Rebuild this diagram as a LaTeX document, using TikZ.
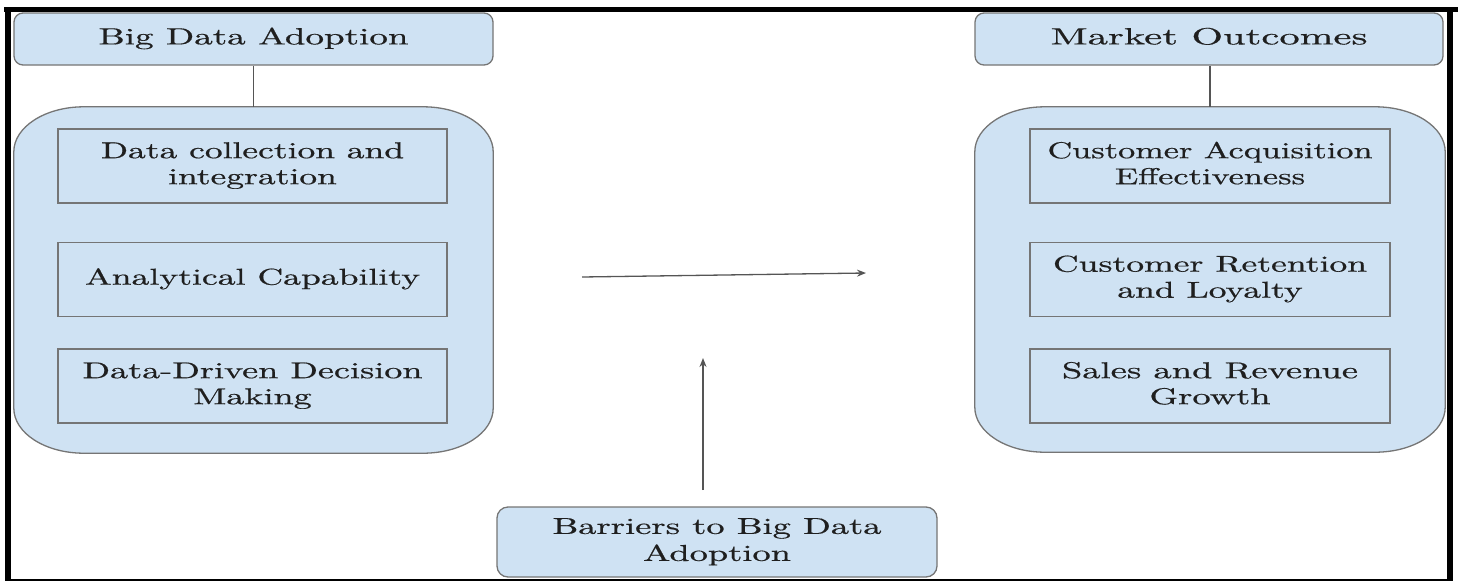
\documentclass[tikz,border=0pt]{standalone}
\usepackage{fontspec}
\usepackage{graphicx}
\setmainfont{lmroman10-regular}[Extension=.otf, FakeBold=0.5]
\usetikzlibrary{arrows.meta}
\definecolor{boxblue}{HTML}{CFE2F3}
\definecolor{edgegray}{HTML}{757575}
\definecolor{linegray}{HTML}{555555}
\definecolor{ink}{HTML}{1F1F1F}
\newcommand{\widetext}[2]{\resizebox{#1pt}{\height}{\renewcommand{\arraystretch}{1}\begin{tabular}{@{}c@{}}#2\end{tabular}}}
\begin{document}
\begin{tikzpicture}[x=1pt,y=-1pt,
  header/.style={draw=edgegray, line width=1.3pt, fill=boxblue, rounded corners=9pt,
    minimum height=52pt, inner sep=0pt, text=ink, font=\fontsize{23.5}{27}\selectfont},
  holder/.style={draw=none, fill=none, inner sep=0pt},
  contline/.style={draw=edgegray, line width=1.3pt, fill=boxblue},
  itembox/.style={draw=edgegray, line width=1.6pt, fill=boxblue, inner sep=0pt,
    minimum height=74pt, text=ink, font=\fontsize{23}{26}\selectfont},
  barrier/.style={draw=edgegray, line width=1.3pt, fill=boxblue, rounded corners=11pt,
    minimum width=440pt, minimum height=70pt, inner sep=0pt, text=ink,
    font=\fontsize{23}{27}\selectfont},
  conn/.style={draw=linegray, line width=1.3pt},
  arr/.style={draw=linegray, line width=1.3pt, -{Stealth[length=9pt,width=7pt]}}
]
\useasboundingbox (0,0) rectangle (1458,581);
% frame
\fill[black] (4,7) rectangle (1458,12);
\fill[black] (5,7) rectangle (11,581);
\fill[black] (1447,7) rectangle (1453,581);
\draw[black, line width=1.5pt] (5,580) -- (1453,580);

% headers
\node[header, minimum width=479pt] (bda) at (253.5,39) {\widetext{310}{Big Data Adoption}};
\node[header, minimum width=468pt] (mo) at (1209,39) {\widetext{317}{Market Outcomes}};

% containers
\node[holder, minimum width=479pt, minimum height=346pt] (lc) at (253.5,280) {};
\node[holder, minimum width=470pt, minimum height=345pt] (rc) at (1210,279.5) {};
\foreach \c in {lc,rc}{
  \draw[contline] ([xshift=70pt]\c.north west) -- ([xshift=-70pt]\c.north east)
    arc[start angle=90, end angle=0, x radius=70pt, y radius=45pt]
    -- ([yshift=45pt]\c.south east)
    arc[start angle=0, end angle=-90, x radius=70pt, y radius=45pt]
    -- ([xshift=70pt]\c.south west)
    arc[start angle=270, end angle=180, x radius=70pt, y radius=45pt]
    -- ([yshift=-45pt]\c.north west)
    arc[start angle=180, end angle=90, x radius=70pt, y radius=45pt]
    -- cycle;
}

\draw[conn] (bda.south) -- (lc.north);
\draw[conn] (mo.south -| rc.north) -- (rc.north);

% left items
\node[itembox, minimum width=389pt] (l1) at (252.5,166) {\widetext{303}{Data collection and\\integration}};
\node[itembox, minimum width=389pt] (l2) at (252.5,279.5) {\widetext{335}{Analytical Capability}};
\node[itembox, minimum width=389pt] (l3) at (252.5,386) {\widetext{340}{Data-Driven Decision\\Making}};

% right items
\node[itembox, minimum width=360pt] (r1) at (1210,166) {\widetext{325}{Customer Acquisition\\Effectiveness}};
\node[itembox, minimum width=360pt] (r2) at (1210,279.5) {\widetext{314}{Customer Retention\\and Loyalty}};
\node[itembox, minimum width=360pt] (r3) at (1210,386) {\widetext{296}{Sales and Revenue\\Growth}};

% barriers
\node[barrier] (bar) at (717,542) {\widetext{329}{Barriers to Big Data\\Adoption}};

% arrows
\coordinate (hs) at (582,277);
\coordinate (he) at (866,273);
\draw[arr] (hs) -- (he);
\coordinate (vs) at (703,490);
\coordinate (ve) at (703,358);
\draw[arr] (vs) -- (ve);
\end{tikzpicture}
\end{document}
